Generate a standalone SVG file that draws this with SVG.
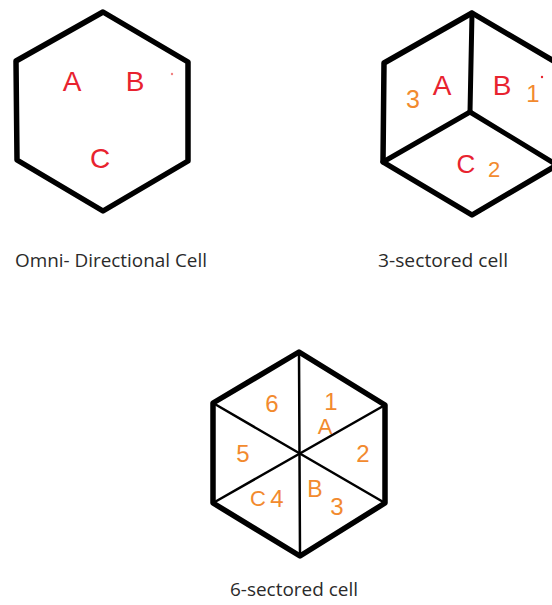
<svg xmlns="http://www.w3.org/2000/svg" width="552" height="605" viewBox="0 0 552 605">
<style>
.hex{fill:none;stroke:#000;stroke-width:5.5;stroke-linejoin:round;stroke-linecap:round}
.thick{fill:none;stroke:#000;stroke-width:5;stroke-linecap:round}
.thin{fill:none;stroke:#000;stroke-width:2.5;stroke-linecap:round}
.red{fill:#E8232F;font-family:"Liberation Sans",Arial,sans-serif;text-anchor:middle}
.org{fill:#F28A2E;font-family:"Liberation Sans",Arial,sans-serif;text-anchor:middle}
.cap{fill:#2a2a2a;font-family:"Open Sans","Liberation Sans",sans-serif;font-size:19px}
</style>
<rect width="552" height="605" fill="#fff"/>
<g id="omni">
<polygon class="hex" points="103,12 188,62 188,161 103,211 17,160 16,61"/>
<text class="red" x="72" y="91" font-size="28">A</text>
<text class="red" x="135" y="91" font-size="28">B</text>
<text class="red" x="100" y="168" font-size="28">C</text>
<circle cx="172" cy="74" r="1.2" fill="#F08080"/>
<text class="cap" x="15" y="267" textLength="192" lengthAdjust="spacingAndGlyphs">Omni- Directional Cell</text>
</g>
<g id="sector3">
<polygon class="hex" points="472,13 557,63 557,165 472,215 383,162 384,63"/>
<line class="thick" x1="472" y1="13" x2="470" y2="112"/>
<line class="thick" x1="470" y1="112" x2="383" y2="162"/>
<line class="thick" x1="470" y1="112" x2="557" y2="165"/>
<text class="org" x="413" y="108" font-size="25">3</text>
<text class="red" x="442" y="95" font-size="28">A</text>
<text class="red" x="502" y="95" font-size="28">B</text>
<text class="org" x="533" y="102" font-size="24">1</text>
<circle cx="542" cy="77" r="1.2" fill="#E8232F"/>
<text class="red" x="466" y="173" font-size="26">C</text>
<text class="org" x="494" y="177" font-size="22">2</text>
<text class="cap" x="378" y="267" textLength="130" lengthAdjust="spacingAndGlyphs">3-sectored cell</text>
</g>
<g id="sector6">
<polygon class="hex" points="299,352 385,405 385,503 300,556 213,503 213,403"/>
<line class="thin" x1="299" y1="352" x2="300" y2="556"/>
<line class="thin" x1="213" y1="403" x2="385" y2="503"/>
<line class="thin" x1="385" y1="405" x2="213" y2="503"/>
<text class="org" x="272" y="412" font-size="24">6</text>
<text class="org" x="331" y="410" font-size="24">1</text>
<text class="org" x="325" y="434" font-size="22">A</text>
<text class="org" x="243" y="462" font-size="24">5</text>
<text class="org" x="363" y="462" font-size="24">2</text>
<text class="org" x="258" y="506" font-size="22">C</text>
<text class="org" x="277" y="507" font-size="24">4</text>
<text class="org" x="315" y="497" font-size="23">B</text>
<text class="org" x="337" y="515" font-size="24">3</text>
<text class="cap" x="230" y="596" textLength="128" lengthAdjust="spacingAndGlyphs">6-sectored cell</text>
</g>
</svg>
